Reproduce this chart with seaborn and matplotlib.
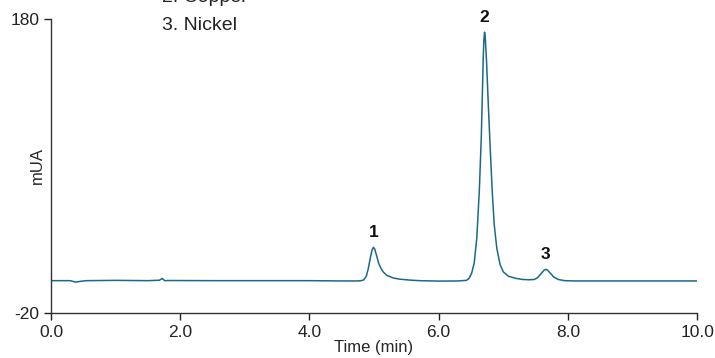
import pandas as pd
import seaborn as sns
import matplotlib.pyplot as plt

# 크로마토그램 데이터
time = [0.0, 0.3, 0.38, 0.45, 0.55, 1.0, 1.5, 1.68, 1.72, 1.76, 1.85, 2.5, 3.0, 3.5,
        4.0, 4.5, 4.75,
        4.80, 4.84, 4.88, 4.91, 4.94, 4.97, 4.99, 5.01, 5.04, 5.07, 5.10, 5.14,
        5.20, 5.30, 5.40, 5.55, 5.70, 6.0, 6.3,
        6.43, 6.47, 6.51, 6.55, 6.59, 6.63, 6.66, 6.68, 6.69, 6.70, 6.71, 6.72,
        6.73, 6.74, 6.77, 6.80, 6.83, 6.86, 6.90, 6.95, 7.00, 7.08, 7.20, 7.30,
        7.40, 7.48, 7.53, 7.58, 7.63, 7.66, 7.69, 7.73, 7.78, 7.85, 7.95, 8.1,
        8.5, 9.0, 9.5, 10.0]
signal = [2.0, 2.0, 1.0, 1.5, 2.0, 2.2, 2.0, 2.3, 3.5, 2.0, 2.1, 2.0, 2.0, 2.0,
          2.0, 1.8, 1.8,
          2.0, 2.5, 5.0, 10.0, 17.0, 23.0, 24.7, 23.5, 19.0, 14.0, 11.0, 8.0,
          5.5, 3.8, 3.0, 2.4, 2.0, 1.7, 1.8,
          2.2, 3.5, 7.0, 14.0, 31.0, 64.0, 100.0, 135.0, 154.0, 166.0, 171.0, 168.0,
          160.0, 152.0, 120.0, 90.0, 62.0, 40.0, 24.0, 13.0, 8.0, 5.0, 3.5, 2.8,
          2.6, 2.8, 4.0, 6.5, 9.0, 9.7, 9.0, 7.0, 4.5, 2.8, 2.0, 1.8,
          1.8, 1.8, 1.8, 1.8]

peak_labels = ["1", "2", "3"]
peak_times = [4.99, 6.71, 7.66]
peak_heights = [24.7, 171.0, 9.7]

legend_lines = ["2. Copper", "3. Nickel"]

df = pd.DataFrame({"time": time, "signal": signal})

sns.set_style("ticks")
plt.rcParams["font.family"] = ["Liberation Sans", "DejaVu Sans"]

fig = plt.figure(figsize=(7.15, 3.58), dpi=100)
ax = fig.add_axes([0.0713, 0.1257, 0.9037, 0.8213])

sns.lineplot(data=df, x="time", y="signal", color="#1a6a87", linewidth=1.1, ax=ax)

# 피크 번호
for lab, t, h in zip(peak_labels, peak_times, peak_heights):
    ax.annotate(lab, (t, h), xytext=(0, 5), textcoords="offset points",
                ha="center", va="bottom", fontsize=12.5, fontweight="bold",
                color="#111111", annotation_clip=False)

# 상단 범례 텍스트 (잘려 있음)
fig.text(162 / 715, 1 + 2 / 358, legend_lines[0], fontsize=14, color="#222222",
         ha="left", va="center")
fig.text(162 / 715, 1 - 26 / 358, legend_lines[1], fontsize=14, color="#222222",
         ha="left", va="center")

ax.set_xlim(0, 10)
ax.set_ylim(-20, 180)
ax.set_xticks([0, 2, 4, 6, 8, 10])
ax.set_xticklabels(["0.0", "2.0", "4.0", "6.0", "8.0", "10.0"])
ax.set_yticks([-20, 180])
ax.set_yticklabels(["-20", "180"])
ax.tick_params(direction="out", length=5, width=1, labelsize=12.5, colors="#222222")
ax.set_xlabel("Time (min)", fontsize=12, labelpad=0)
ax.set_ylabel("mUA", fontsize=12)
ax.yaxis.set_label_coords(-0.009, 0.5)
sns.despine(ax=ax)
for s in ["left", "bottom"]:
    ax.spines[s].set_color("#333333")
    ax.spines[s].set_linewidth(1)

plt.savefig("out.png", dpi=100)
